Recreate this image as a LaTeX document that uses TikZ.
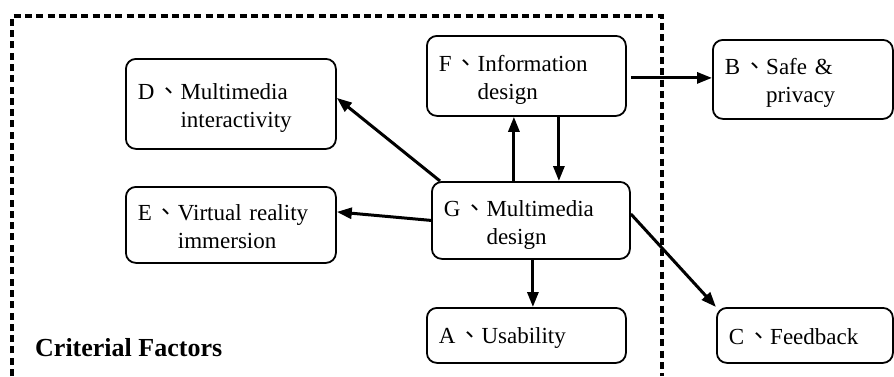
\documentclass[tikz,border=0pt]{standalone}
\usepackage{fontspec}
\setmainfont{Liberation Serif}
\newfontfamily\cjk{Noto Sans CJK TC}
\usetikzlibrary{arrows.meta}

% enumeration mark: letter followed by an ideographic comma
\newcommand\enummark[1]{#1\makebox[26pt][l]{\hspace{3pt}{\cjk 、}}}
% label with hanging second line aligned after the enumeration mark
\newcommand\twoline[3]{\begin{tabular}{@{}l@{}l@{}}\enummark{#1}&#2\\&#3\end{tabular}}
\newcommand\oneline[2]{\enummark{#1}#2}
% lower a label inside its box without changing the box's reported size
\newcommand\droplabel[2]{\raisebox{-#1}[\height][\depth]{#2}}

\begin{document}
\begin{tikzpicture}[x=1pt,y=-1pt,
  factor/.style={draw, line width=1.8pt, rounded corners=10pt, anchor=north west,
    inner xsep=12pt, inner ysep=0pt, align=left,
    font=\fontsize{23}{28}\selectfont},
  arr/.style={line width=3pt, -{Triangle[length=15pt,width=11pt]}},
  frame/.style={line width=4.5pt, dash pattern=on 7pt off 4.3pt}]
\useasboundingbox (0,0) rectangle (894,376);

% dashed frame around the criterial factors
\draw[frame] (12,376) -- (12,16) -- (662,16) -- (662,376);

% factor boxes
\node[factor, text width=186pt, minimum height=90pt] (D) at (125,58) {\droplabel{4pt}{\twoline{D}{Multimedia}{interactivity}}};
\node[factor, text width=186pt, minimum height=76pt] (E) at (125,186) {\droplabel{4pt}{\twoline{E}{Virtual reality}{immersion}}};
\node[factor, text width=175pt, minimum height=80pt] (F) at (426,35) {\droplabel{4pt}{\twoline{F}{Information}{design}}};
\node[factor, text width=174pt, minimum height=77pt] (G) at (431,181) {\droplabel{4pt}{\twoline{G}{Multimedia}{design}}};
\node[factor, text width=175pt, minimum height=55pt] (A) at (426,307) {\droplabel{3pt}{\oneline{A}{Usability}}};
\node[factor, text width=156pt, minimum height=79pt] (B) at (712,39) {\droplabel{3pt}{\twoline{B}{Safe \&}{privacy}}};
\node[factor, text width=152pt, minimum height=55pt] (C) at (716,307) {\droplabel{1pt}{\oneline{C}{Feedback}}};

\node[anchor=base west, inner sep=0pt, font=\fontsize{26}{30}\selectfont\bfseries] (title) at (35,356) {Criterial Factors};

% relations
\draw[arr] ([xshift=9pt]G.north west) -- ([yshift=6pt]D.east);
\draw[arr] (G.west) -- ([yshift=13pt]E.east);
\draw[arr] ([xshift=-17pt]G.north) -- ([xshift=-12.5pt]F.south);
\draw[arr] ([xshift=32.5pt]F.south) -- ([xshift=28pt]G.north);
\draw[arr, shorten <=4pt] ([yshift=-2pt]F.east) -- ([yshift=1.5pt]B.west);
\draw[arr] ([yshift=6.5pt]G.east) -- (C.north west);
\draw[arr] ([xshift=2pt]G.south) -- ([xshift=6.5pt]A.north);
\end{tikzpicture}
\end{document}
